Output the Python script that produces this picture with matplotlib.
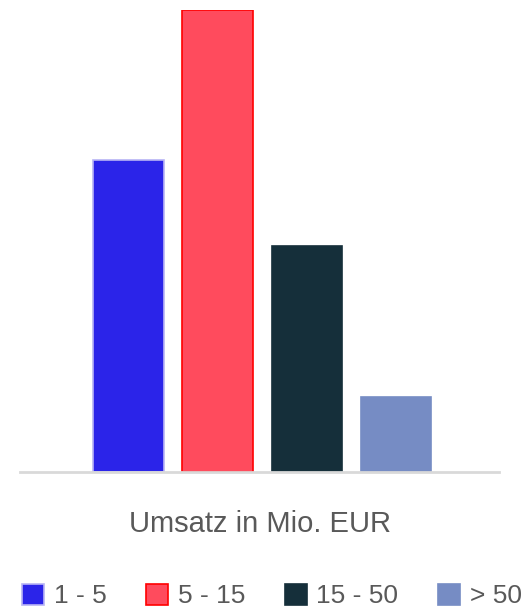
import matplotlib
matplotlib.use("Agg")
import matplotlib.pyplot as plt
from matplotlib.patches import Patch

categories = ["1 - 5", "5 - 15", "15 - 50", "> 50"]
values = [29, 43, 21, 7]
colors = ["#2b24e9", "#ff4b5d", "#152f3a", "#768cc4"]
edges = ["#b8b4f5", "#ff0000", "#152f3a", "#768cc4"]
xlabel = "Umsatz in Mio. EUR"

plt.rcParams['font.family'] = ['Liberation Sans', 'DejaVu Sans']

W, H = 531, 611
fig = plt.figure(figsize=(W/100, H/100), dpi=100)
ax = fig.add_axes([20/W, (H-472)/H, 479/W, (472-10)/H])

x = [0, 1, 2, 3]
for xi, v, c, e in zip(x, values, colors, edges):
    ax.bar(xi, v, width=0.79, color=c, edgecolor=e, linewidth=1.2, zorder=2)

ax.set_ylim(0, 43)
ax.set_xlim(-1.22, 4.16)
for s in ["top", "right", "left"]:
    ax.spines[s].set_visible(False)
ax.spines["bottom"].set_color("#d9d9d9")
ax.spines["bottom"].set_linewidth(2)
ax.spines["bottom"].set_zorder(3)
ax.set_xticks([])
ax.set_yticks([])

fig.text(260/W, 1 - 524/H, xlabel, ha="center", va="center", fontsize=21, color="#595959")

handles = [Patch(facecolor=c, edgecolor=e, linewidth=1.2) for c, e in zip(colors, edges)]
fig.legend(handles, categories, loc="center left", bbox_to_anchor=(22/W, 1 - 596/H), ncol=4,
           frameon=False, fontsize=19, labelcolor="#595959", handlelength=0.85, handleheight=0.85,
           handletextpad=0.35, columnspacing=1.5, borderaxespad=0, borderpad=0)

fig.savefig("out.png", dpi=100)
